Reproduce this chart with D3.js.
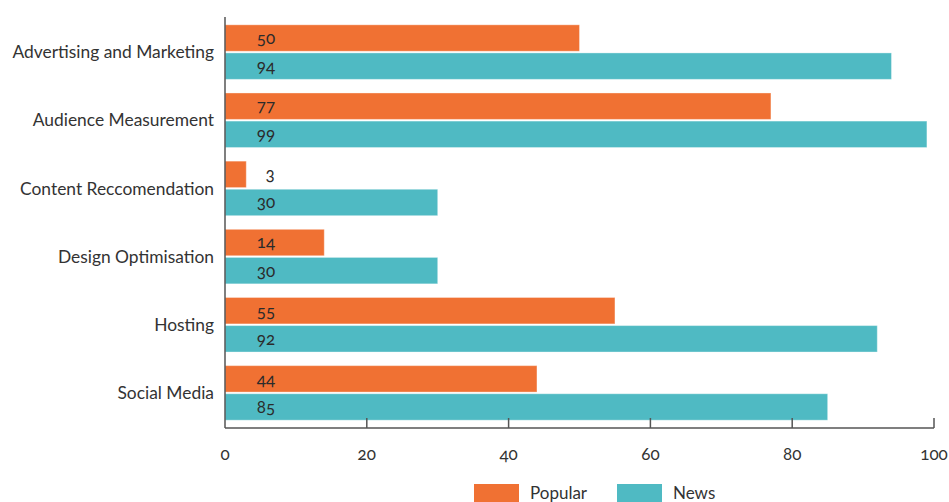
<!DOCTYPE html>
<html><head><meta charset="utf-8">
<script src="https://cdn.jsdelivr.net/npm/d3@7"></script>
<style>
html,body{margin:0;padding:0;background:#fff;}
svg text{font-family:Lato,"Open Sans",sans-serif;}
.num{font-variant-numeric:oldstyle-nums;font-feature-settings:"onum" 1;}
</style>
</head><body>
<svg id="c" width="949" height="502"></svg>
<script>
const categories = ["Advertising and Marketing","Audience Measurement","Content Reccomendation","Design Optimisation","Hosting","Social Media"];
const seriesNames = ["Popular","News"];
const popular = [50,77,3,14,55,44];
const news = [94,99,30,30,92,85];
const xTicks = [0,20,40,60,80,100];
const colors = {"Popular":"#F07133","News":"#4FBAC3"};

const svg = d3.select("#c");
const mLeft = 225, mRight = 934, mTop = 17, mBottom = 428;

const x = d3.scaleLinear().domain([0,100]).range([mLeft,mRight]);
const y = d3.scaleBand().domain(categories).range([mTop+1,mBottom-1]).paddingInner(0.2).paddingOuter(0.1);
const ys = d3.scaleBand().domain(seriesNames).range([0,y.bandwidth()]).paddingInner(0.06);

const rows = categories.map((c,i)=>({cat:c, vals:[{s:"Popular",v:popular[i]},{s:"News",v:news[i]}]}));

const g = svg.append("g");
rows.forEach(r=>{
  r.vals.forEach(d=>{
    g.append("rect")
      .attr("x", x(0))
      .attr("y", y(r.cat)+ys(d.s))
      .attr("width", x(d.v)-x(0))
      .attr("height", ys.bandwidth())
      .attr("fill", colors[d.s])
      .attr("stroke","rgba(255,255,255,0.35)")
      .attr("stroke-width",1);
    g.append("text")
      .attr("class","num")
      .attr("x", x(0)+41 + (d.v<10?4:0))
      .attr("y", y(r.cat)+ys(d.s)+ys.bandwidth()/2)
      .attr("dy","0.35em")
      .attr("text-anchor","middle")
      .attr("font-size",17)
      .attr("fill","#2b2b2b")
      .text(d.v);
  });
});

// category labels
svg.append("g").selectAll("text").data(categories).join("text")
  .attr("x", mLeft-11)
  .attr("y", d=>y(d)+y.bandwidth()/2)
  .attr("dy","0.35em")
  .attr("text-anchor","end")
  .attr("font-size",17.4)
  .attr("fill","#333")
  .text(d=>d);

// axes
const ax = svg.append("g").attr("stroke","#555").attr("stroke-width",1.5).attr("fill","none");
ax.append("line").attr("x1",mLeft).attr("x2",mLeft).attr("y1",mTop).attr("y2",mBottom);
ax.append("line").attr("x1",mLeft).attr("x2",x(100)).attr("y1",mBottom).attr("y2",mBottom);
ax.selectAll("line.t").data(xTicks.slice(1)).join("line")
  .attr("class","t")
  .attr("x1",d=>x(d)).attr("x2",d=>x(d))
  .attr("y1",mBottom-10).attr("y2",mBottom);

svg.append("g").selectAll("text").data(xTicks).join("text")
  .attr("class","num")
  .attr("x",d=>x(d))
  .attr("y",454)
  .attr("dy","0.35em")
  .attr("text-anchor","middle")
  .attr("font-size",17)
  .attr("fill","#333")
  .text(d=>d);

// legend
const leg = svg.append("g");
const legX = [474,617];
seriesNames.forEach((s,i)=>{
  leg.append("rect").attr("x",legX[i]).attr("y",484).attr("width",45).attr("height",20).attr("fill",colors[s]);
  leg.append("text").attr("x",legX[i]+56).attr("y",493).attr("dy","0.35em")
    .attr("font-size",17).attr("fill","#333").text(s);
});
</script>
</body></html>
